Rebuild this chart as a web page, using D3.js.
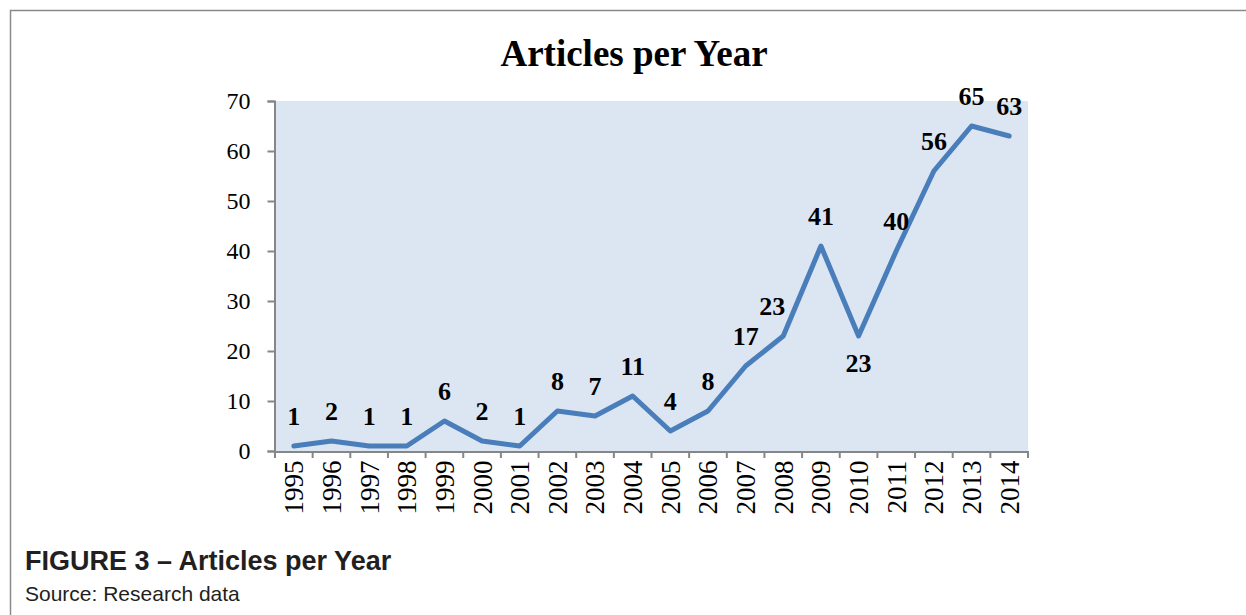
<!DOCTYPE html>
<html>
<head>
<meta charset="utf-8">
<script src="https://cdn.jsdelivr.net/npm/d3@7"></script>
<style>
  body { margin: 0; background: #fff; }
  svg { display: block; }
</style>
</head>
<body>
<div id="chart"></div>
<script>
const years = ["1995", "1996", "1997", "1998", "1999", "2000", "2001", "2002", "2003", "2004",
  "2005", "2006", "2007", "2008", "2009", "2010", "2011", "2012", "2013", "2014"]
const articles = [1, 2, 1, 1, 6, 2, 1, 8, 7, 11, 4, 8, 17, 23, 41, 23, 40, 56, 65, 63]
const yTicks = [0, 10, 20, 30, 40, 50, 60, 70]

const W = 1246, H = 615
const MARGIN = { LEFT: 275, TOP: 101 }
const WIDTH = 1028 - MARGIN.LEFT
const HEIGHT = 451 - MARGIN.TOP
const serif = "'Liberation Serif', 'Times New Roman', serif"
const sans = "'Liberation Sans', Arial, sans-serif"

const svg = d3.select("#chart").append("svg")
  .attr("width", W)
  .attr("height", H)

// outer frame (top and left edges only)
svg.append("path")
  .attr("d", `M10.5,${H} V10.5 H${W}`)
  .attr("fill", "none")
  .attr("stroke", "#8a8a8a")
  .attr("stroke-width", 1.5)

svg.append("text")
  .attr("x", 634)
  .attr("y", 66)
  .attr("text-anchor", "middle")
  .attr("font-family", serif)
  .attr("font-weight", "bold")
  .attr("font-size", "37px")
  .text("Articles per Year")

const g = svg.append("g")
  .attr("transform", `translate(${MARGIN.LEFT}, ${MARGIN.TOP})`)

const x = d3.scaleBand().domain(years).range([0, WIDTH]).padding(0)
const y = d3.scaleLinear().domain([0, 70]).range([HEIGHT, 0])

g.append("rect")
  .attr("width", WIDTH)
  .attr("height", HEIGHT)
  .attr("fill", "#dce6f2")

// y axis
const yAxis = g.append("g")
  .attr("transform", "translate(-0.5,0)")
  .call(d3.axisLeft(y).tickValues(yTicks).tickSize(7).tickPadding(17))
yAxis.select(".domain").attr("stroke", "#868686").attr("stroke-width", 2)
yAxis.selectAll(".tick line").attr("stroke", "#868686").attr("stroke-width", 2)
yAxis.selectAll("text")
  .attr("font-family", serif)
  .attr("font-size", "24px")
  .attr("fill", "#000")
  .attr("dy", "0.33em")

// x axis: labels at band centres, ticks on band boundaries
const xAxis = g.append("g")
  .attr("transform", `translate(0, ${HEIGHT + 0.5})`)
  .call(d3.axisBottom(x).tickSize(0).tickPadding(0))
xAxis.select(".domain").attr("stroke", "#868686").attr("stroke-width", 2)
xAxis.selectAll("text")
  .attr("font-family", serif)
  .attr("font-size", "27px")
  .attr("fill", "#000")
  .attr("text-anchor", "end")
  .attr("transform", "rotate(-90)")
  .attr("x", -9)
  .attr("y", 0)
  .attr("dy", "0.35em")

const bounds = years.map(d => x(d)).concat([WIDTH])
g.append("g").selectAll("line")
  .data(bounds)
  .join("line")
  .attr("x1", d => d)
  .attr("x2", d => d)
  .attr("y1", HEIGHT)
  .attr("y2", HEIGHT + 7)
  .attr("stroke", "#868686")
  .attr("stroke-width", 2)

const data = years.map((d, i) => ({ year: d, value: articles[i] }))
const cx = d => x(d.year) + x.bandwidth() / 2

const line = d3.line()
  .x(cx)
  .y(d => y(d.value))

g.append("path")
  .datum(data)
  .attr("d", line)
  .attr("fill", "none")
  .attr("stroke", "#4a7ebb")
  .attr("stroke-width", 5)
  .attr("stroke-linejoin", "round")
  .attr("stroke-linecap", "round")

// data labels, mostly above the point
const labelBelow = new Set(["2010"])
const labelLeft = new Set(["2008"])
g.append("g").selectAll("text")
  .data(data)
  .join("text")
  .attr("x", d => cx(d) - (labelLeft.has(d.year) ? 11 : 0))
  .attr("y", d => y(d.value) + (labelBelow.has(d.year) ? 27 : -30))
  .attr("dy", "0.35em")
  .attr("text-anchor", "middle")
  .attr("font-family", serif)
  .attr("font-weight", "bold")
  .attr("font-size", "26px")
  .attr("fill", "#000")
  .text(d => d.value)

svg.append("text")
  .attr("x", 25)
  .attr("y", 570)
  .attr("font-family", sans)
  .attr("font-weight", "bold")
  .attr("font-size", "27px")
  .attr("fill", "#231f20")
  .text("FIGURE 3 – Articles per Year")

svg.append("text")
  .attr("x", 25)
  .attr("y", 601)
  .attr("font-family", sans)
  .attr("font-size", "21px")
  .attr("fill", "#231f20")
  .text("Source: Research data")
</script>
</body>
</html>
